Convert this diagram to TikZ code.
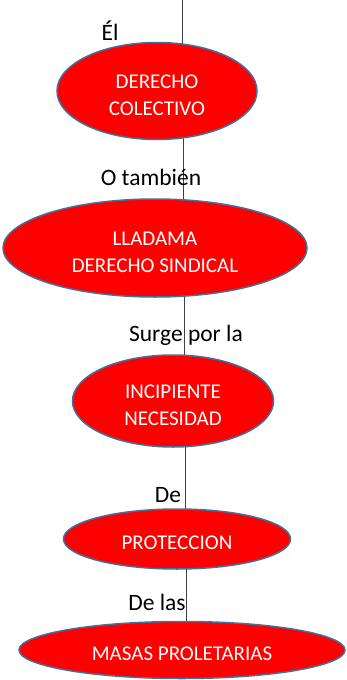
\documentclass[tikz,border=0pt]{standalone}
\usepackage{fontspec}
\setmainfont{Carlito}
\usetikzlibrary{shapes.geometric,backgrounds}
\definecolor{rojo}{RGB}{255,0,0}
\definecolor{borde}{RGB}{65,113,156}
\tikzset{font={\fontsize{23.5pt}{28}\selectfont}}
\newcommand{\bajar}{\rule{0pt}{21.5pt}}

\begin{document}
\begin{tikzpicture}[x=1pt,y=-1pt,
    concepto/.style={ellipse, draw=borde, line width=1.5pt, fill=rojo, text=white,
        inner sep=0pt, align=center, font={\fontsize{21pt}{27}\selectfont}},
    enlace/.style={draw=black!75, line width=1pt}]
    \useasboundingbox (0,0) rectangle (347,680);
    \node (dc) [concepto, minimum width=200pt, minimum height=97pt] at (157,91) {\bajar DERECHO\\COLECTIVO};
    \node (ds) [concepto, minimum width=304pt, minimum height=98pt] at (155,248) {\bajar LLADAMA\\DERECHO SINDICAL};
    \node (in) [concepto, minimum width=201pt, minimum height=92pt] at (173,401) {\bajar INCIPIENTE\\NECESIDAD};
    \node (pr) [concepto, minimum width=227pt, minimum height=60pt] at (177,539) {\bajar PROTECCION};
    \node (mp) [concepto, minimum width=326pt, minimum height=57pt] at (182,650) {\bajar MASAS PROLETARIAS};
    \coordinate (inicio) at (182,0);
    \begin{scope}[on background layer]
        \draw[enlace] (inicio) -- (dc.center -| inicio);
        \draw[enlace] (dc.center -| 183,0) -- (ds.center -| 183,0);
        \draw[enlace] (ds.center -| 184,0) -- (in.center -| 184,0);
        \draw[enlace] (in.center -| 185,0) -- (pr.center -| 185,0);
        \draw[enlace] (pr.center -| 186,0) -- (mp.center -| 186,0);
    \end{scope}
    \node (el) at (110,31) {Él};
    \node (otambien) at (151,177) {O también};
    \node (surge) at (186,335) {Surge por la};
    \node (de) at (168,495) {De};
    \node (delas) at (157,602) {De las};
\end{tikzpicture}
\end{document}
